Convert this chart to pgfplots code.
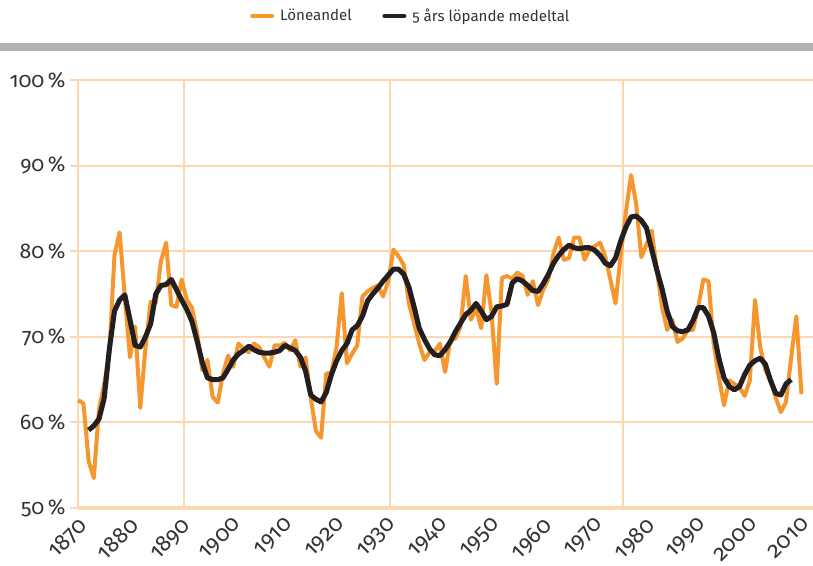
\documentclass[border=0pt]{standalone}
\usepackage{fontspec}
\setmainfont{Fira Sans}[Numbers=OldStyle]
\usepackage{pgfplots}
\usepackage{pgfplotstable}
\pgfplotsset{compat=1.18}

\definecolor{lineorange}{HTML}{F5962F}
\definecolor{lineblack}{HTML}{231F20}
\definecolor{gridpeach}{HTML}{FCD7B1}
\definecolor{bandgray}{HTML}{B1B3B6}
\definecolor{textgray}{HTML}{333333}

% Löneandel, yearly
\pgfplotstableread{
year share
1870 62.6
1871 62.2
1872 55.5
1873 53.5
1874 61.5
1875 64.5
1876 68.0
1877 79.5
1878 82.2
1879 74.7
1880 67.6
1881 71.2
1882 61.7
1883 68.7
1884 74.1
1885 74.0
1886 78.8
1887 81.0
1888 73.7
1889 73.5
1890 76.7
1891 74.3
1892 73.4
1893 70.5
1894 66.1
1895 67.3
1896 63.0
1897 62.3
1898 65.7
1899 67.8
1900 66.5
1901 69.2
1902 68.6
1903 68.2
1904 69.2
1905 68.8
1906 67.6
1907 66.5
1908 69.0
1909 69.0
1910 69.3
1911 68.4
1912 69.6
1913 66.5
1914 67.6
1915 62.9
1916 59.0
1917 58.2
1918 65.7
1919 65.8
1920 68.8
1921 75.1
1922 66.9
1923 68.0
1924 69.0
1925 74.7
1926 75.3
1927 75.7
1928 76.0
1929 74.7
1930 76.5
1931 80.2
1932 79.4
1933 78.4
1934 73.9
1935 71.6
1936 69.2
1937 67.3
1938 68.2
1939 68.3
1940 69.2
1941 65.9
1942 69.6
1943 69.8
1944 71.2
1945 77.1
1946 72.0
1947 73.3
1948 71.0
1949 77.2
1950 72.8
1951 64.5
1952 76.9
1953 77.1
1954 76.8
1955 77.5
1956 77.1
1957 74.9
1958 76.5
1959 73.7
1960 75.5
1961 76.7
1962 79.8
1963 81.6
1964 79.0
1965 79.2
1966 81.6
1967 81.6
1968 79.0
1969 80.2
1970 80.6
1971 81.0
1972 79.4
1973 76.7
1974 73.9
1975 79.5
1976 84.5
1977 88.9
1978 85.5
1979 79.3
1980 80.8
1981 82.4
1982 77.8
1983 73.5
1984 70.8
1985 72.0
1986 69.4
1987 69.8
1988 70.8
1989 70.8
1990 73.5
1991 76.7
1992 76.5
1993 69.2
1994 65.3
1995 62.0
1996 64.9
1997 64.5
1998 64.1
1999 63.1
2000 64.9
2001 74.3
2002 68.8
2003 66.1
2004 64.9
2005 62.9
2006 61.2
2007 62.4
2008 67.6
2009 72.4
2010 63.3
}\loneandel

% 5 års löpande medeltal
\pgfplotstableread{
year avg
1872 59.1
1873 59.6
1874 60.4
1875 62.8
1876 68.5
1877 73.0
1878 74.3
1879 74.9
1880 72.0
1881 69.0
1882 68.8
1883 70.0
1884 71.5
1885 75.0
1886 76.0
1887 76.1
1888 76.7
1889 75.5
1890 74.3
1891 73.2
1892 71.8
1893 69.5
1894 67.0
1895 65.2
1896 65.0
1897 65.0
1898 65.2
1899 66.2
1900 67.3
1901 68.0
1902 68.4
1903 68.9
1904 68.5
1905 68.2
1906 68.1
1907 68.1
1908 68.2
1909 68.4
1910 69.0
1911 68.7
1912 68.4
1913 67.6
1914 66.0
1915 63.2
1916 62.7
1917 62.4
1918 63.5
1919 65.6
1920 67.2
1921 68.4
1922 69.2
1923 70.8
1924 71.3
1925 72.4
1926 74.2
1927 75.0
1928 75.7
1929 76.5
1930 77.2
1931 77.9
1932 77.9
1933 77.3
1934 75.8
1935 73.5
1936 71.0
1937 69.7
1938 68.6
1939 67.9
1940 67.8
1941 68.5
1942 69.4
1943 70.6
1944 71.6
1945 72.6
1946 73.1
1947 73.9
1948 73.0
1949 72.0
1950 72.4
1951 73.5
1952 73.6
1953 73.8
1954 76.3
1955 76.8
1956 76.5
1957 76.0
1958 75.4
1959 75.3
1960 76.2
1961 77.3
1962 78.6
1963 79.5
1964 80.2
1965 80.7
1966 80.4
1967 80.3
1968 80.4
1969 80.4
1970 80.1
1971 79.5
1972 78.6
1973 78.3
1974 79.2
1975 81.2
1976 82.8
1977 84.0
1978 84.1
1979 83.6
1980 82.7
1981 80.2
1982 77.8
1983 75.6
1984 73.0
1985 71.2
1986 70.7
1987 70.6
1988 70.8
1989 71.9
1990 73.4
1991 73.4
1992 72.4
1993 70.5
1994 67.5
1995 65.2
1996 64.2
1997 63.8
1998 64.2
1999 65.6
2000 66.7
2001 67.2
2002 67.5
2003 66.8
2004 64.9
2005 63.4
2006 63.2
2007 64.5
2008 65.0
}\medeltal

\begin{document}
\begin{tikzpicture}[x=0.75pt,y=0.75pt]
% picture is 813 x 565 px, origin at the axis corner (1870, 50 %)
\useasboundingbox (-78.3,-57) rectangle (734.7,508);
\fill[bandgray] (-78.3,457.3) rectangle (734.7,465.3);
\begin{axis}[
  at={(0,0)}, anchor=south west,
  scale only axis, width=551pt, height=321pt,
  xmin=1870, xmax=2012.22, ymin=50, ymax=100,
  clip=false,
  axis lines*=left, axis line style={-},
  x axis line style={gridpeach, line width=2.6pt},
  y axis line style={gridpeach, line width=1.5pt},
  ytick={50,60,...,100},
  yticklabels={50\,\%,60\,\%,70\,\%,80\,\%,90\,\%,100\,\%},
  ymajorgrids,
  major grid style={gridpeach, line width=1.5pt},
  xtick={1870,1880,...,2010},
  xticklabels={1870,1880,1890,1900,1910,1920,1930,1940,1950,1960,1970,1980,1990,2000,2010},
  xtick style={draw=none},
  extra x ticks={1890.46,1930.34,1975.38},
  extra x tick labels={},
  extra x tick style={grid=major, major tick length=0pt},
  tick align=outside,
  major tick length=6pt,
  ytick style={gridpeach, line width=1.5pt},
  yticklabel style={font=\fontsize{16}{18}\selectfont, text=textgray},
  xticklabel style={font=\fontsize{17}{19}\selectfont, text=textgray,
    rotate=45, anchor=north east, xshift=3pt, yshift=4pt},
  legend columns=2,
  legend style={at={(0.453,1.1495)}, anchor=center, draw=none, fill=none,
    font=\fontsize{11.3}{13}\selectfont, text=textgray,
    /tikz/every odd column/.append style={column sep=2.5pt},
    /tikz/every even column/.append style={column sep=21pt}},
  legend image code/.code={\draw[#1, line width=3.5pt, line cap=round] (0pt,0pt) -- (14.5pt,0pt);},
  line join=round,
]
\addplot[lineorange, line width=3pt] table[x=year, y=share] {\loneandel};
\addlegendentry{Löneandel}
\addplot[lineblack, line width=3.8pt] table[x=year, y=avg] {\medeltal};
\addlegendentry{5 års löpande medeltal}
\end{axis}
\end{tikzpicture}
\end{document}
